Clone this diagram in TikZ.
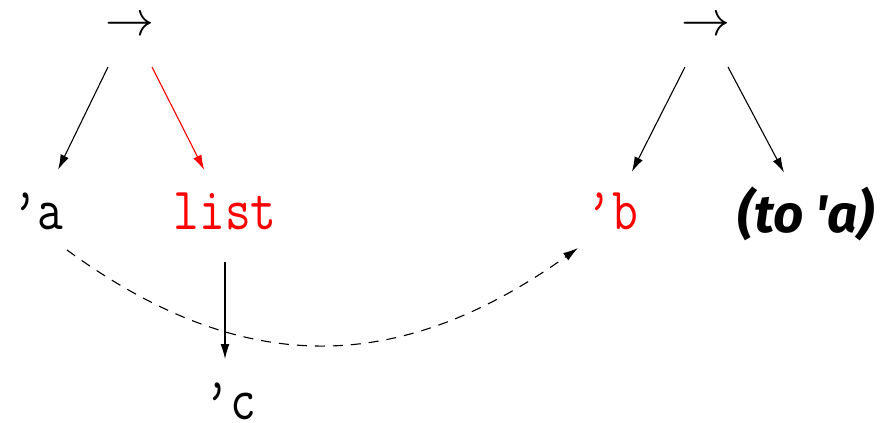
\documentclass[tikz,border=0pt]{standalone}
\usepackage{graphicx}
\usepackage{fontspec}
\newfontfamily\handfont{Fira Sans}
\usetikzlibrary{arrows.meta}

\begin{document}
\begin{tikzpicture}[
    x=1pt, y=-1pt,
    atom/.style={
        inner sep=0pt,
        font=\fontsize{50}{50}\selectfont\ttfamily
    },
    hand/.style={
        inner sep=0pt,
        font=\fontsize{53}{53}\selectfont\handfont\bfseries\itshape
    },
    cons/.style={inner sep=0pt},
    arrow/.style={-{Latex[length=15pt, width=9pt]}, line width=1.1pt},
    dasharrow/.style={arrow, dash pattern=on 10pt off 8pt}
]
\useasboundingbox (0,0) rectangle (884,423);

%% ─── LEFT CELL ───────────────────────────────────────────────
\node[cons] (lcons) at (130,27) {\scalebox{4.9}{$\rightarrow$}};
\node[atom] (qa) at (38,211) {\scalebox{1}[1.2]{’a}};
\node[atom, text=red] (list) at (225,211) {\scalebox{1}[1.2]{list}};
\node[atom] (qc) at (230,401) {\scalebox{1}[1.2]{’c}};

%% ─── RIGHT CELL ──────────────────────────────────────────────
\node[cons] (rcons) at (706,27) {\scalebox{4.9}{$\rightarrow$}};
\node[atom, text=red] (qb) at (612,211) {\scalebox{1}[1.2]{’b}};
\node[hand] (toa) at (806,214) {(to 'a)};

%% ─── ARROWS ──────────────────────────────────────────────────
\draw[arrow, shorten >=46pt] ([shift={(-22,40)}]lcons.center) -- (qa.center);
\draw[arrow, red, shorten >=46pt] ([shift={(22,40)}]lcons.center) -- (list.center);
\draw[arrow, shorten <=51pt, shorten >=42pt] (list.center) -- (list.center |- qc.center);

\draw[arrow, shorten >=44pt] ([shift={(-21,40)}]rcons.center) -- (qb.center);
\draw[arrow, shorten >=47pt] ([shift={(22,40)}]rcons.center) -- (toa.center);

% 'a is shared with the right cell
\coordinate (dstart) at ([shift={(29,39)}]qa);
\coordinate (dend) at ([shift={(-34,37)}]qb);
\draw[dasharrow] (dstart) .. controls +(174,127) and +(-181,129) .. (dend);

\end{tikzpicture}
\end{document}
